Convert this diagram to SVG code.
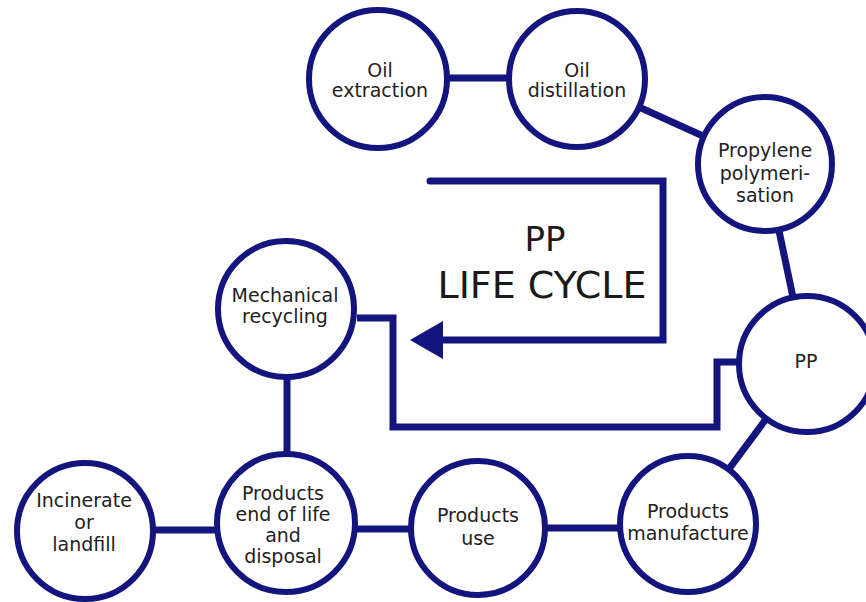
<svg xmlns="http://www.w3.org/2000/svg" width="866" height="602" viewBox="0 0 866 602">
<style>
.node circle{fill:#fff;stroke:#14147f;stroke-width:6}
.node text{font-family:"DejaVu Sans","Verdana",sans-serif;font-size:19px;fill:#222;text-anchor:middle}
.conn line,.conn path{stroke:#14147f;stroke-width:7;fill:none}
.title text{font-family:"DejaVu Sans","Verdana",sans-serif;fill:#1a1a1a;text-anchor:middle}
</style>
<rect width="866" height="602" fill="#fff"/>
<g id="connectors" class="conn">
<line x1="377" y1="78" x2="577" y2="78"/>
<line x1="577" y1="79" x2="765" y2="164"/>
<line x1="765" y1="164" x2="807" y2="364"/>
<line x1="807" y1="364" x2="688" y2="524"/>
<line x1="688" y1="528" x2="478" y2="528"/>
<line x1="478" y1="529" x2="286" y2="529"/>
<line x1="286" y1="530" x2="85" y2="530"/>
<line x1="287" y1="309" x2="287" y2="523"/>
<path d="M357 318 H393 V427 H717 V362 H740" stroke-linejoin="miter"/>
<path d="M430 181 H663 V340 H440" stroke-linejoin="miter" stroke-linecap="round"/>
<polygon points="410,340 443,321 443,359" fill="#14147f" stroke="none"/>
</g>
<g id="title" class="title">
<text x="545" y="251" font-size="34">PP</text>
<text x="542" y="298" font-size="38">LIFE CYCLE</text>
</g>
<g id="oil-extraction" class="node">
<circle cx="378" cy="79" r="69"/>
<text x="380" y="77" font-size="18">Oil</text>
<text x="380" y="97" font-size="18">extraction</text>
</g>
<g id="oil-distillation" class="node">
<circle cx="577" cy="79" r="68"/>
<text x="577" y="77" font-size="18">Oil</text>
<text x="577" y="97" font-size="18">distillation</text>
</g>
<g id="propylene-polymerisation" class="node">
<circle cx="765" cy="164" r="67"/>
<text x="765" y="157">Propylene</text>
<text x="765" y="180">polymeri-</text>
<text x="765" y="202">sation</text>
</g>
<g id="pp" class="node">
<circle cx="807" cy="364" r="68"/>
<text x="806" y="368" font-size="17">PP</text>
</g>
<g id="products-manufacture" class="node">
<circle cx="688" cy="524" r="68"/>
<text x="688" y="518">Products</text>
<text x="688" y="540">manufacture</text>
</g>
<g id="products-use" class="node">
<circle cx="478" cy="528" r="67"/>
<text x="478" y="522">Products</text>
<text x="478" y="545">use</text>
</g>
<g id="products-end-of-life" class="node">
<circle cx="286" cy="523" r="69"/>
<text x="283" y="500">Products</text>
<text x="283" y="521">end of life</text>
<text x="283" y="542">and</text>
<text x="283" y="563">disposal</text>
</g>
<g id="incinerate-or-landfill" class="node">
<circle cx="85" cy="531" r="68"/>
<text x="84" y="507">Incinerate</text>
<text x="84" y="529">or</text>
<text x="84" y="551">landfill</text>
</g>
<g id="mechanical-recycling" class="node">
<circle cx="286" cy="309" r="68"/>
<text x="285" y="302">Mechanical</text>
<text x="285" y="323">recycling</text>
</g>
</svg>
